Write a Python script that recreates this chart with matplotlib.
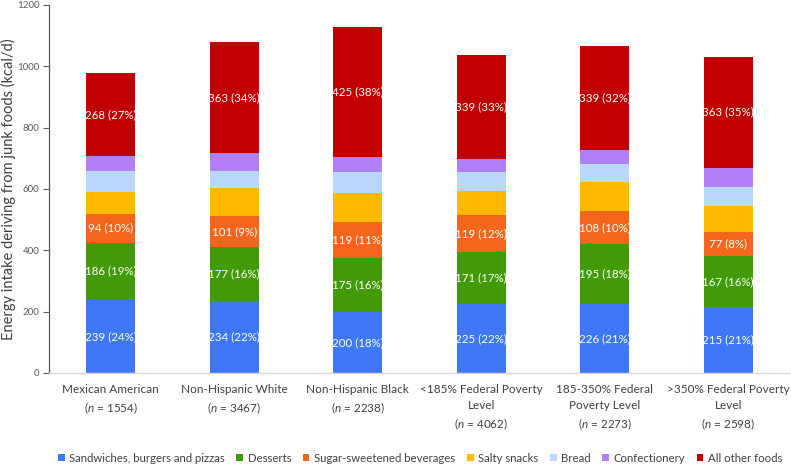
import matplotlib
matplotlib.use("Agg")
import matplotlib.pyplot as plt
from matplotlib.patches import Patch

plt.rcParams['font.family'] = ['Lato', 'DejaVu Sans']
plt.rcParams['mathtext.fontset'] = 'custom'
plt.rcParams['mathtext.rm'] = 'Lato'
plt.rcParams['mathtext.it'] = 'Lato:italic'

categories = [
    "Mexican American\n($\\it{n}$ = 1554)",
    "Non-Hispanic White\n($\\it{n}$ = 3467)",
    "Non-Hispanic Black\n($\\it{n}$ = 2238)",
    "<185% Federal Poverty\nLevel\n($\\it{n}$ = 4062)",
    "185-350% Federal\nPoverty Level\n($\\it{n}$ = 2273)",
    ">350% Federal Poverty\nLevel\n($\\it{n}$ = 2598)",
]

series_names = ["Sandwiches, burgers and pizzas", "Desserts", "Sugar-sweetened beverages",
                "Salty snacks", "Bread", "Confectionery", "All other foods"]

sandwiches = [239, 234, 200, 225, 226, 215]
desserts = [186, 177, 175, 171, 195, 167]
ssb = [94, 101, 119, 119, 108, 77]
salty = [70, 90, 92, 77, 95, 84]
bread = [71, 58, 70, 62, 59, 65]
confectionery = [49, 56, 48, 45, 45, 61]
other = [268, 363, 425, 339, 339, 363]

sandwiches_pct = [24, 22, 18, 22, 21, 21]
desserts_pct = [19, 16, 16, 17, 18, 16]
ssb_pct = [10, 9, 11, 12, 10, 8]
other_pct = [27, 34, 38, 33, 32, 35]

colors = ["#3F78F7", "#429B06", "#F4661B", "#FFBA00", "#BAD7FC", "#B180F7", "#C00000"]

series = [sandwiches, desserts, ssb, salty, bread, confectionery, other]
pcts = [sandwiches_pct, desserts_pct, ssb_pct, None, None, None, other_pct]

W, H = 791, 466
fig = plt.figure(figsize=(W / 100, H / 100), dpi=100)
ax = fig.add_axes([49 / W, (H - 373) / H, (790 - 49) / W, (373 - 5) / H])

x = list(range(len(categories)))
bottom = [0] * len(x)
for vals, pct, col in zip(series, pcts, colors):
    ax.bar(x, vals, width=0.4, bottom=bottom, color=col, linewidth=0)
    if pct is not None:
        for xi, v, p, b in zip(x, vals, pct, bottom):
            ax.text(xi, b + v / 2, f"{v} ({p}%)", ha="center", va="center",
                    color="white", fontsize=8.3)
    bottom = [b + v for b, v in zip(bottom, vals)]

ax.set_xlim(-0.5, 5.5)
ax.set_ylim(0, 1200)
ax.set_yticks(range(0, 1201, 200))
ax.tick_params(axis="y", labelsize=7, colors="#595959", length=4, width=0.8, direction="out", pad=3)
ax.set_xticks(x)
ax.set_xticklabels(categories, fontsize=8.5, color="#404040", linespacing=1.5)
ax.tick_params(axis="x", length=0, pad=8)

for s in ["top", "right"]:
    ax.spines[s].set_visible(False)
ax.spines["left"].set_color("#595959")
ax.spines["left"].set_linewidth(0.9)
ax.spines["bottom"].set_color("#D9D9D9")
ax.spines["bottom"].set_linewidth(1.0)

ax.set_ylabel("Energy intake deriving from junk foods (kcal/d)", fontsize=10.5, color="#404040")
ax.yaxis.set_label_coords(-33 / 741, 0.5)

handles = [Patch(facecolor=c, edgecolor="none", label=n) for c, n in zip(colors, series_names)]
fig.legend(handles=handles, loc="lower center", bbox_to_anchor=(420 / W, 0.0),
           bbox_transform=fig.transFigure, borderaxespad=0.0, borderpad=0.2, ncol=7,
           frameon=False, fontsize=8.2, handlelength=0.6, handleheight=0.6, handletextpad=0.4,
           columnspacing=1.0, labelcolor="#404040")

fig.savefig("out.png", dpi=100)
